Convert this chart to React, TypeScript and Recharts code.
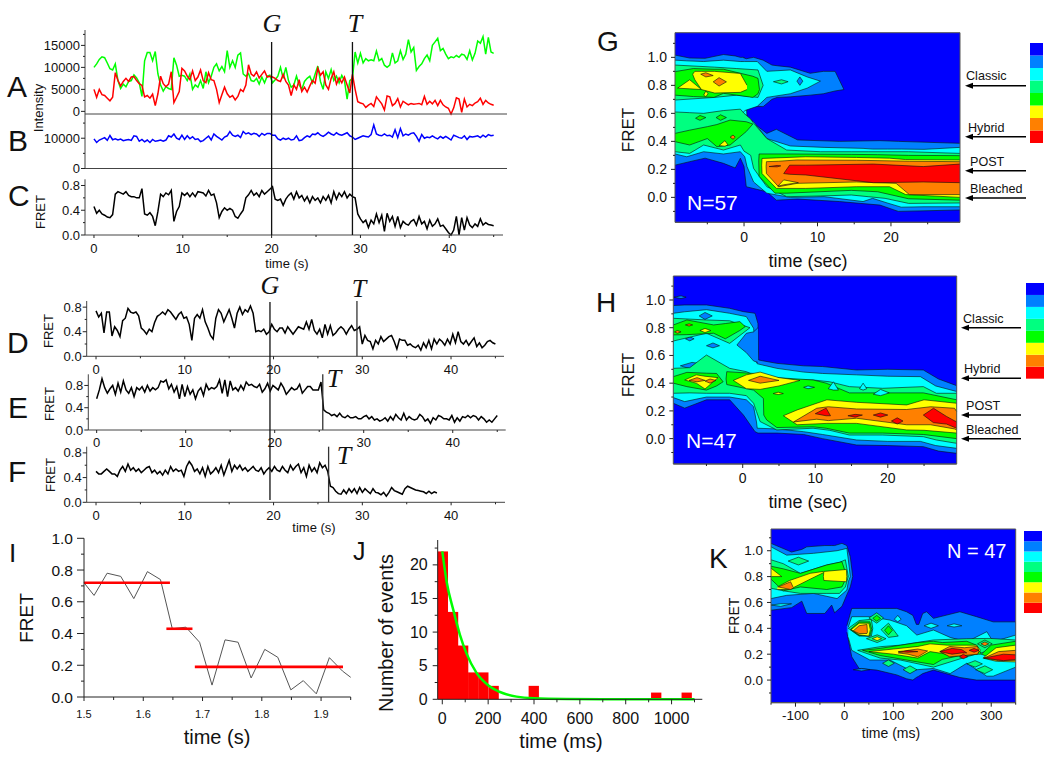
import React from "react";
import {
  Area,
  Bar,
  BarChart,
  ComposedChart,
  Line,
  ReferenceLine,
  XAxis,
  YAxis,
} from "recharts";

const PAGE_W = 1050;
const PAGE_H = 759;
const SANS = "'Liberation Sans', Arial, sans-serif";
const SERIF = "'Liberation Serif', 'Times New Roman', serif";

// contour levels, low to high
const LEVEL_COLORS = ["#0000ff", "#0080ff", "#00ffff", "#00ff80", "#00ff00", "#ffff00", "#ff8000", "#ff0000"];

// panel A, intensity in thousands, one value each 0.3 s
const greenTrace = [
  10.0, 10.8, 11.8, 12.4, 12.2, 11.0, 9.7, 9.4, 10.8, 7.0,
  5.2, 6.2, 5.6, 6.8, 7.0, 8.3, 7.6, 6.5, 3.4, 11.5,
  13.4, 13.4, 11.5, 13.6, 8.5, 6.0, 4.6, 5.6, 5.2, 5.0,
  12.2, 10.5, 8.0, 8.2, 8.0, 7.0, 8.5, 5.0, 6.0, 5.5,
  7.0, 5.2, 9.0, 6.5, 8.0, 10.0, 10.8, 9.2, 10.2, 9.0,
  13.8, 10.0, 11.5, 10.0, 12.8, 13.3, 8.5, 8.0, 8.6, 7.0,
  6.8, 7.5, 6.2, 7.8, 6.5, 8.0, 8.2, 6.5, 7.2, 8.0,
  10.0, 7.5, 10.0, 7.0, 5.5, 6.0, 8.0, 6.0, 5.0, 6.8,
  7.5, 8.0, 6.5, 8.5, 10.3, 6.8, 5.0, 9.0, 7.5, 9.5,
  7.0, 8.0, 6.5, 8.2, 7.0, 2.8, 7.0, 7.5, 13.5, 11.0,
  13.2, 11.0, 12.0, 11.5, 11.7, 11.5, 13.7, 11.5, 12.0, 10.5,
  10.0, 10.5, 13.3, 11.0, 11.5, 13.8, 11.8, 13.0, 16.3, 13.5,
  14.5, 9.3, 10.2, 10.8, 12.0, 12.8, 11.5, 15.0, 15.8, 16.6,
  13.8, 14.3, 13.0, 12.0, 12.4, 12.2, 12.7, 12.3, 13.0, 12.8,
  11.8, 13.8, 11.7, 13.2, 16.0, 15.5, 17.0, 13.0, 16.8, 13.5,
  13.2,
];
const redTrace = [
  5.0, 3.2, 5.0, 3.8, 3.6, 3.0, 2.4, 3.2, 8.8, 7.0,
  5.8, 6.8, 7.5, 6.8, 7.8, 7.9, 7.0, 6.3, 5.9, 3.3,
  3.6, 3.0, 3.9, 1.3, 4.0, 8.0, 6.3, 5.6, 6.2, 9.0,
  2.0, 3.2, 4.5, 9.8, 9.2, 8.0, 7.2, 9.2, 7.0, 7.8,
  9.4, 7.0, 6.5, 8.8, 7.2, 7.0, 5.0, 2.0, 3.8, 5.5,
  4.0, 3.2, 3.6, 2.6, 3.4, 5.0, 4.5, 6.0, 10.6, 8.5,
  8.0, 9.0, 7.6, 8.4, 9.2, 7.8, 8.0, 7.8, 7.5, 7.0,
  6.8, 8.4, 6.8, 6.0, 3.6, 6.0, 5.0, 7.2, 4.5, 5.5,
  4.4, 5.8, 7.0, 6.4, 9.8, 8.2, 9.0, 6.0, 5.0, 7.5,
  9.0, 6.2, 7.6, 6.5, 7.8, 6.0, 4.2, 8.4, 5.0, 2.2,
  1.9, 1.7, 0.9, 1.4, 1.8, 1.1, 3.3, 2.5, 1.7, 0.3,
  3.5, 3.3, 1.3, 1.8, 2.9, 1.0, 2.3, 1.9, 1.5, 1.8,
  1.6, 1.7, 1.8, 1.5, 3.4, 1.6, 2.3, 1.7, 2.5, 1.3,
  2.5, 1.5, 1.0, 0.7, -0.6, 0.8, 3.1, 2.8, -0.2, 2.8,
  1.0, 1.6, 1.3, 1.9, 2.2, 3.0, 1.6, 2.5, 1.9, 1.6,
  1.4,
];
// panel B, thousands
const blueTrace = [
  9.8, 8.6, 9.4, 9.8, 10.2, 9.3, 10.9, 9.5, 9.8, 9.4,
  9.7, 9.2, 9.4, 9.6, 9.3, 10.8, 10.6, 9.0, 9.6, 8.8,
  9.4, 8.6, 9.6, 9.0, 9.2, 9.4, 9.0, 9.4, 10.8, 10.4,
  11.4, 10.0, 9.6, 11.0, 9.6, 10.8, 9.8, 10.5, 9.6, 9.8,
  8.9, 9.2, 10.0, 10.7, 9.4, 11.4, 10.6, 10.0, 9.4, 10.4,
  10.8, 12.2, 11.0, 10.6, 11.0, 10.2, 12.2, 11.4, 11.8, 11.2,
  11.6, 11.4, 10.6, 11.6, 11.0, 11.6, 11.6, 11.0, 11.0, 9.8,
  9.4, 10.0, 9.6, 10.0, 9.4, 9.6, 10.8, 9.2, 9.4, 10.2,
  10.8, 10.4, 11.4, 11.2, 11.8, 11.0, 10.6, 11.2, 12.0, 11.4,
  11.0, 11.8, 11.2, 11.0, 11.4, 11.8, 10.8, 10.4, 9.6, 10.0,
  10.4, 10.8, 10.6, 10.4, 11.2, 14.4, 11.4, 11.0, 10.8, 11.4,
  10.8, 11.0, 10.4, 12.8, 10.2, 13.2, 10.8, 11.4, 11.0, 11.6,
  11.8, 10.6, 9.0, 11.2, 10.0, 10.4, 10.2, 10.8, 10.2, 9.8,
  10.6, 10.0, 10.6, 10.0, 9.4, 11.0, 10.6, 10.2, 10.0, 10.8,
  9.6, 10.6, 10.4, 10.6, 10.8, 10.2, 11.0, 10.4, 11.2, 10.8,
  11.0,
];
// FRET panels, in hundredths
const fretC = [
  46, 35, 40, 34, 32, 29, 28, 33, 66, 70,
  68, 66, 70, 64, 62, 62, 60, 60, 75, 34,
  32, 36, 30, 15, 38, 66, 62, 68, 65, 72,
  22, 38, 46, 68, 64, 68, 62, 68, 62, 70,
  69, 68, 63, 72, 64, 66, 52, 28, 38, 44,
  40, 43, 40, 30, 27, 34, 40, 60, 65, 72,
  64, 68, 62, 72, 66, 70, 74, 78, 58, 56,
  58, 48, 58, 64, 68, 58, 70, 60, 64, 55,
  62, 52, 62, 56, 60, 52, 62, 56, 64, 52,
  70, 58, 68, 62, 70, 60, 66, 62, 60, 34,
  26, 20, 24, 12, 24, 18, 34, 20, 32, 6,
  35, 22, 30, 14, 30, 12, 22, 18, 16, 22,
  25, 16, 30, 18, 22, 10, 24, 14, 18, 26,
  14, 16, 10, 4, 0, 8, 30, 0, 28, 8,
  28, 16, 12, 18, 14, 26, 16, 20, 17, 16,
  15,
];
const fretD = [
  74, 64, 70, 38, 72, 72, 33, 48, 42, 32,
  58, 62, 78, 72, 70, 72, 66, 46, 42, 36,
  44, 40, 55, 65, 68, 72, 68, 76, 72, 66,
  60, 68, 72, 62, 64, 52, 26, 62, 68, 62,
  76, 56, 46, 34, 28, 62, 76, 70, 56, 66,
  76, 62, 46, 70, 80, 68, 76, 72, 82, 70,
  40, 42, 40, 44, 36, 40, 52, 44, 40, 46,
  46, 38, 48, 42, 36, 42, 48, 46, 44, 56,
  44, 60, 42, 36, 44, 30, 52, 36, 50, 34,
  38, 44, 48, 44, 36, 44, 50, 42, 44, 48,
  20, 34, 26, 24, 12, 26, 20, 32, 24, 28,
  32, 34, 24, 12, 28, 26, 26, 18, 20, 16,
  14, 18, 10, 22, 14, 26, 12, 28, 20, 28,
  24, 18, 28, 20, 36, 22, 40, 24, 20, 26,
  18, 24, 30, 16, 22, 14, 18, 24, 26, 22,
  20,
];
const fretE = [
  56, 72, 92, 76, 66, 74, 80, 64, 84, 68,
  88, 72, 66, 76, 60, 76, 72, 78, 68, 80,
  70, 76, 72, 76, 88, 86, 90, 74, 82, 68,
  78, 56, 82, 60, 78, 64, 72, 56, 70, 76,
  62, 82, 72, 76, 74, 78, 90, 66, 90, 60,
  88, 72, 76, 70, 80, 72, 86, 80, 82, 78,
  76, 82, 68, 74, 84, 70, 80, 76, 72, 84,
  76, 64, 70, 76, 72, 74, 82, 66, 72, 78,
  78, 72, 72, 72, 86, 36, 32, 30, 26, 28,
  24, 30, 24, 22, 26, 22, 22, 24, 20, 20,
  24, 26, 20, 24, 18, 20, 16, 18, 22, 16,
  24, 18, 28, 22, 18, 30, 18, 24, 20, 18,
  20, 28, 24, 16, 20, 12, 22, 18, 26, 24,
  20, 20, 18, 26, 14, 22, 16, 24, 22, 26,
  22, 26, 24, 18, 24, 20, 14, 18, 14, 20,
  26,
];
const fretF = [
  50, 46, 46, 50, 54, 50, 46, 46, 42, 52,
  58, 50, 62, 52, 56, 50, 54, 48, 52, 56,
  58, 48, 52, 46, 50, 44, 52, 46, 58, 50,
  54, 50, 52, 42, 58, 66, 60, 50, 54, 46,
  56, 42, 58, 46, 50, 56, 48, 60, 44, 56,
  68, 50, 60, 54, 60, 52, 56, 50, 54, 58,
  52, 50, 56, 46, 52, 56, 50, 58, 52, 50,
  58, 52, 48, 60, 52, 58, 62, 48, 56, 42,
  60, 50, 56, 48, 64, 56, 60, 50, 26, 24,
  18, 14, 13, 20, 14, 22, 16, 22, 14, 24,
  16, 22, 18, 14, 22, 16, 15, 12, 16, 10,
  16, 24, 19, 17, 15, 13, 22, 26, 24, 22,
  20, 19, 18, 17, 14, 18, 14, 17, 15,
];

// panel I
const traceITimes = [1.5, 1.517, 1.539, 1.562, 1.584, 1.607, 1.629, 1.649, 1.672, 1.695, 1.716, 1.738, 1.76, 1.782, 1.805, 1.827, 1.849, 1.87, 1.892, 1.914, 1.936, 1.95];
const traceIFret = [0.72, 0.64, 0.78, 0.76, 0.62, 0.79, 0.74, 0.43, 0.44, 0.345, 0.075, 0.36, 0.345, 0.12, 0.3, 0.25, 0.045, 0.103, 0.02, 0.248, 0.164, 0.124];
const stepLevels: [number, number, number][] = [
  [1.5, 1.645, 0.72],
  [1.639, 1.683, 0.43],
  [1.687, 1.937, 0.19],
];

// panel J
const histCenters = [2.5, 47, 91, 135, 179, 224, 399, 933, 1066];
const histCounts = [22, 13, 8, 4, 4, 2, 2, 1, 1];
const fitTimes = [0, 19, 48, 77, 106, 150, 200, 266, 324, 397, 542, 800, 1100];
const fitCounts = [22, 17.5, 13.3, 9.6, 6.8, 3.9, 2.1, 0.9, 0.4, 0.15, 0.05, 0.02, 0.02];

// contour regions: [level, [time, lower FRET, upper FRET] ...], painted in list order
type Band = [number, number, number];
type Region = [number, Band[]];

const contourG: Region[] = [
  [1, [[-9.4, 0.23, 1.016], [-7.4, 0.255, 0.995], [-5.3, 0.28, 0.993], [-2.8, 0.243, 1.02], [-1.2, 0.21, 1.01], [-0.5, 0.28, 1.0], [0, 0.22, 1.0], [0.3, 0.076, 0.57], [3.1, 0.04, 0.457], [4.4, -0.02, 0.486], [7.3, -0.012, 0.41], [13, -0.03, 0.4], [18.5, -0.055, 0.405], [21, -0.1, 0.4], [29.4, -0.09, 0.386]]],
  [1, [[-0.2, 0.56, 1.0], [0.3, 0.636, 0.99], [1.3, 0.652, 1.0], [2.6, 0.648, 0.98], [3.8, 0.7, 0.945], [4.5, 0.714, 0.94], [6.3, 0.718, 0.93], [9, 0.73, 0.886], [10.8, 0.74, 0.9], [12.4, 0.76, 0.9], [13.6, 0.77, 0.77]]],
  [2, [[-9.4, 0.31, 0.98], [-7.8, 0.29, 0.975], [-5.5, 0.326, 0.97], [-2.8, 0.31, 0.98], [-0.5, 0.326, 0.97], [0.1, 0.29, 0.96], [0.4, 0.22, 0.565], [1.3, 0.11, 0.54], [3.1, 0.03, 0.42], [6.3, 0, 0.367], [10.9, 0.005, 0.357], [16.2, -0.03, 0.35], [17.5, -0.007, 0.345], [19.5, -0.04, 0.345], [21.4, -0.07, 0.345], [24.5, -0.067, 0.343], [29.4, -0.067, 0.357]]],
  [2, [[-0.5, 0.58, 0.97], [0.1, 0.62, 0.97], [1.8, 0.65, 0.97], [3.1, 0.714, 0.9], [6.3, 0.74, 0.91], [8.6, 0.78, 0.86], [10.4, 0.83, 0.83]]],
  [3, [[4, 0.826, 0.826], [5.1, 0.81, 0.84], [6, 0.826, 0.826]]],
  [1, [[7.2, 0.83, 0.83], [7.6, 0.8, 0.86], [8, 0.83, 0.83]]],
  [3, [[-9.4, 0.695, 0.945], [-4, 0.714, 0.93], [-1, 0.73, 0.92], [1.9, 0.714, 0.91], [2.6, 0.8, 0.8]]],
  [3, [[-9.4, 0.326, 0.61], [-7.4, 0.314, 0.605], [-5.5, 0.374, 0.6], [-2.8, 0.338, 0.62], [-0.5, 0.374, 0.63], [0, 0.33, 0.6], [0.9, 0.3, 0.56], [1.3, 0.207, 0.53], [3.1, 0.076, 0.42], [5.8, 0.005, 0.338], [10.4, 0.01, 0.326], [14.6, 0.017, 0.326], [16.9, 0.005, 0.326], [19.2, -0.007, 0.326], [22.4, -0.043, 0.326], [29.4, -0.04, 0.314]]],
  [4, [[-9.4, 0.73, 0.898], [-6.9, 0.72, 0.92], [-4.1, 0.714, 0.915], [-2.8, 0.743, 0.915], [1.2, 0.714, 0.865], [1.9, 0.74, 0.85], [2.1, 0.77, 0.77]]],
  [4, [[-9.4, 0.398, 0.457], [-7.4, 0.374, 0.48], [-5, 0.42, 0.505], [-3.7, 0.362, 0.52], [-1.9, 0.374, 0.552], [0.3, 0.47, 0.54], [1.2, 0.524, 0.524]]],
  [4, [[2, 0.26, 0.26], [2.05, 0.15, 0.31], [4.2, 0.03, 0.31], [5.8, 0.03, 0.31], [14.6, 0.05, 0.307], [18.2, 0.04, 0.305], [22.4, -0.01, 0.3], [29.4, -0.02, 0.298]]],
  [4, [[-6.6, 0.565, 0.565], [-6, 0.55, 0.585], [-5.2, 0.57, 0.57]]],
  [4, [[-3.8, 0.57, 0.57], [-3.2, 0.55, 0.59], [-2.4, 0.57, 0.57]]],
  [5, [[-9.05, 0.78, 0.78], [-7.4, 0.775, 0.84], [-5.8, 0.77, 0.77]]],
  [5, [[-7, 0.88, 0.88], [-6.7, 0.84, 0.9], [-5.8, 0.77, 0.9], [-4, 0.745, 0.9], [-0.5, 0.75, 0.885], [0.4, 0.77, 0.8]]],
  [5, [[-5.5, 0.73, 0.73], [-5.2, 0.72, 0.76], [-4.9, 0.74, 0.74]]],
  [5, [[-3.4, 0.37, 0.37], [-2.6, 0.365, 0.405], [-2.2, 0.375, 0.375]]],
  [6, [[-1.9, 0.43, 0.43], [-1.5, 0.415, 0.445], [-1.2, 0.43, 0.43]]],
  [5, [[2.4, 0.23, 0.23], [2.45, 0.17, 0.278], [4.4, 0.064, 0.282], [8.4, 0.064, 0.29], [15.3, 0.076, 0.285], [19.8, 0.076, 0.28], [22, 0.02, 0.27], [29.4, 0, 0.267]]],
  [6, [[3, 0.22, 0.22], [3.05, 0.17, 0.255], [4.7, 0.076, 0.258], [7.2, 0.1, 0.267], [15.3, 0.11, 0.265], [20.7, 0.1, 0.26], [22.5, 0.02, 0.258], [29.4, 0.02, 0.255]]],
  [5, [[4.6, 0.08, 0.08], [5.4, 0.09, 0.125], [7.4, 0.105, 0.105]]],
  [6, [[-5.9, 0.88, 0.88], [-5.2, 0.86, 0.89], [-4.2, 0.87, 0.87]]],
  [6, [[-4.2, 0.825, 0.825], [-3.4, 0.795, 0.855], [-2.4, 0.825, 0.825]]],
  [7, [[5.4, 0.17, 0.17], [6.2, 0.165, 0.23], [8.4, 0.16, 0.23], [17.6, 0.105, 0.238], [24.4, 0.11, 0.22], [29.4, 0.105, 0.238]]],
  [7, [[3.4, 0.22, 0.22], [4.5, 0.218, 0.228], [5, 0.225, 0.225]]],
];

const contourH: Region[] = [
  [1, [[-9.57, 0.255, 0.96], [-8, 0.22, 0.964], [-5, 0.28, 0.964], [-1.8, 0.28, 0.94], [0.1, 0.17, 0.916], [1.7, 0.05, 0.904], [2.1, 0.04, 0.83], [2.2, 0.04, 0.567], [4.7, 0.04, 0.543], [8.4, 0.03, 0.525], [11, 0, 0.52], [15.7, -0.046, 0.495], [20, -0.05, 0.5], [24.9, -0.058, 0.495], [27, -0.09, 0.43], [29.5, -0.106, 0.382]]],
  [1, [[-9.5, 1.02, 1.02], [-8.5, 1.01, 1.03], [-7.8, 1.02, 1.02]]],
  [2, [[-9.57, 0.296, 0.904], [-8, 0.267, 0.915], [-5, 0.3, 0.93], [-1.8, 0.3, 0.904], [0.5, 0.28, 0.88], [1.5, 0.23, 0.796], [1.9, 0.12, 0.55], [2, 0.075, 0.54], [4.7, 0.07, 0.507], [8.4, 0.05, 0.48], [11, 0.03, 0.47], [15.7, -0.01, 0.46], [20, -0.02, 0.45], [24.5, -0.02, 0.447], [26.6, -0.05, 0.38], [29.5, -0.07, 0.34]]],
  [1, [[-0.8, 0.675, 0.675], [0.5, 0.62, 0.76], [1.5, 0.56, 0.77], [2.1, 0.55, 0.8]]],
  [1, [[-6, 0.885, 0.885], [-5.2, 0.86, 0.91], [-4.2, 0.885, 0.885]]],
  [1, [[-7.9, 0.72, 0.72], [-7.3, 0.705, 0.735], [-6.7, 0.72, 0.72]]],
  [1, [[-5, 0.67, 0.67], [-4.1, 0.655, 0.69], [-3.2, 0.67, 0.67]]],
  [1, [[-8.6, 0.525, 0.525], [-7, 0.5, 0.55], [-5, 0.5, 0.535], [-4.6, 0.52, 0.52]]],
  [3, [[-9.57, 0.704, 0.868], [-5, 0.76, 0.856], [-1.8, 0.687, 0.85], [1, 0.8, 0.8]]],
  [3, [[-9.57, 0.327, 0.507], [-7.3, 0.33, 0.512], [-5, 0.327, 0.603], [-1.8, 0.327, 0.507], [0.5, 0.31, 0.483], [1.5, 0.255, 0.46], [1.9, 0.195, 0.45], [2.4, 0.123, 0.44], [4.7, 0.0625, 0.423], [9.7, 0.075, 0.423], [12, 0.06, 0.41], [14.7, 0.026, 0.375], [19.3, 0.026, 0.363], [24.9, 0.014, 0.375], [26.7, -0.01, 0.327], [29.5, -0.034, 0.327]]],
  [4, [[-9.57, 0.748, 0.82], [-7.7, 0.75, 0.856], [-4, 0.76, 0.82], [-2.4, 0.72, 0.83], [-0.4, 0.78, 0.844], [0.35, 0.808, 0.808]]],
  [4, [[-9.57, 0.4, 0.447], [-7.7, 0.375, 0.478], [-5, 0.35, 0.472], [-3.6, 0.38, 0.47], [-2.7, 0.41, 0.41]]],
  [4, [[-2.3, 0.43, 0.43], [-2.2, 0.39, 0.483], [1.5, 0.35, 0.47], [2.85, 0.29, 0.455], [2.9, 0.17, 0.455], [3.3, 0.135, 0.45], [4.7, 0.08, 0.44], [9.7, 0.085, 0.423], [11.5, 0.075, 0.4], [14.7, 0.04, 0.33], [19.3, 0.04, 0.33], [24.9, 0.03, 0.33], [29.5, 0, 0.28]]],
  [2, [[8.4, 0.37, 0.37], [9, 0.36, 0.38], [9.9, 0.37, 0.37]]],
  [2, [[11.8, 0.36, 0.36], [12.5, 0.35, 0.41], [13.2, 0.35, 0.35]]],
  [2, [[16.1, 0.36, 0.36], [16.6, 0.35, 0.4], [17.1, 0.36, 0.36]]],
  [2, [[18, 0.32, 0.32], [19, 0.31, 0.355], [20.2, 0.33, 0.33]]],
  [5, [[-8, 0.423, 0.423], [-6.4, 0.4, 0.46], [-5.2, 0.358, 0.45], [-3.4, 0.44, 0.44]]],
  [5, [[-1.3, 0.42, 0.42], [0.5, 0.36, 0.46], [2.4, 0.355, 0.48], [5, 0.38, 0.44], [7.9, 0.42, 0.42]]],
  [5, [[-5.9, 0.78, 0.78], [-5.2, 0.765, 0.795], [-4.4, 0.78, 0.78]]],
  [5, [[4.2, 0.325, 0.325], [4.9, 0.318, 0.335], [5.6, 0.325, 0.325]]],
  [5, [[5.6, 0.165, 0.165], [7.5, 0.1, 0.207], [11.6, 0.11, 0.28], [15.7, 0.11, 0.262], [22.6, 0.0625, 0.243], [25, 0.06, 0.28], [29.5, 0.04, 0.255]]],
  [6, [[7, 0.12, 0.12], [10.2, 0.14, 0.219], [11.8, 0.13, 0.23], [15.7, 0.147, 0.214], [22.6, 0.1, 0.21], [25.9, 0.1, 0.23], [29.2, 0.07, 0.219], [29.5, 0.0625, 0.195]]],
  [6, [[-7.4, 0.42, 0.42], [-6.3, 0.41, 0.44], [-5.2, 0.42, 0.42]]],
  [6, [[-5.2, 0.415, 0.415], [-4.5, 0.4, 0.43], [-3.7, 0.42, 0.42]]],
  [6, [[0.8, 0.42, 0.42], [2.4, 0.4, 0.45], [5, 0.42, 0.42]]],
  [6, [[-7.9, 0.82, 0.82], [-7.4, 0.812, 0.828], [-6.9, 0.82, 0.82]]],
  [6, [[-9.4, 0.77, 0.77], [-9, 0.76, 0.78], [-8.5, 0.77, 0.77]]],
  [7, [[10, 0.18, 0.18], [11.5, 0.165, 0.22], [12.1, 0.165, 0.165]]],
  [7, [[14.5, 0.165, 0.165], [15.5, 0.155, 0.175], [16.5, 0.17, 0.17]]],
  [7, [[18, 0.17, 0.17], [19, 0.155, 0.185], [20, 0.17, 0.17]]],
  [7, [[20.5, 0.127, 0.127], [21.3, 0.105, 0.15], [22.1, 0.127, 0.127]]],
  [7, [[24.9, 0.17, 0.17], [26.3, 0.115, 0.219], [28.1, 0.105, 0.16], [29.5, 0.075, 0.12]]],
];

const contourK: Region[] = [
  [1, [[-150, 0.54, 1.057], [-108, 0.56, 0.99], [-87, 0.61, 1.01], [-77, 0.515, 1.03], [-40, 0.515, 1.04], [-26, 0.58, 1.04], [-20, 0.52, 1.04], [-5, 0.57, 1.057], [5, 0.66, 1.04], [12, 0.72, 0.954], [17, 0.8, 0.8]]],
  [2, [[-150, 0.63, 1.03], [-118, 0.655, 0.966], [-63, 0.67, 0.98], [-15, 0.63, 1.0], [5, 0.696, 1.018], [8, 0.76, 0.93], [12, 0.8, 0.8]]],
  [2, [[-150, 0.58, 0.58], [-130, 0.57, 0.59], [-108, 0.59, 0.59]]],
  [3, [[-150, 0.71, 0.93], [-125, 0.69, 0.9], [-90, 0.67, 0.825], [-36, 0.67, 0.89], [-10, 0.67, 0.91], [2, 0.72, 0.93], [8, 0.8, 0.8]]],
  [3, [[-115, 0.92, 0.92], [-94, 0.89, 0.95], [-73, 0.92, 0.92]]],
  [4, [[-150, 0.78, 0.88], [-125, 0.69, 0.86], [-90, 0.72, 0.825], [-36, 0.7, 0.89], [-5, 0.72, 0.915], [5, 0.8, 0.8]]],
  [5, [[-150, 0.8, 0.865], [-128, 0.8, 0.8]]],
  [5, [[-137, 0.7, 0.72], [-112, 0.7, 0.77], [-70, 0.78, 0.825], [-43, 0.83, 0.84]]],
  [5, [[-43, 0.8, 0.8], [-42, 0.77, 0.84], [4, 0.76, 0.855], [5, 0.8, 0.8]]],
  [6, [[-135, 0.72, 0.72], [-110, 0.7, 0.76], [-105, 0.71, 0.72]]],
  [1, [[5, 0.37, 0.42], [15, 0.18, 0.554], [30, 0.09, 0.554], [66, 0.077, 0.554], [107, 0.04, 0.554], [127, 0.01, 0.528], [140, 0, 0.5], [147, 0.02, 0.43], [152, 0.03, 0.43], [160, 0.05, 0.515], [168, 0.06, 0.528], [182, 0.077, 0.477], [236, 0.02, 0.528], [270, 0, 0.49], [304, 0, 0.45], [350, 0, 0.45]]],
  [1, [[18, 0.08, 0.08], [35, 0.07, 0.09], [52, 0.08, 0.08]]],
  [2, [[8, 0.33, 0.41], [15, 0.23, 0.49], [52, 0.155, 0.49], [93, 0.155, 0.464], [127, 0.09, 0.42], [148, 0.08, 0.348], [182, 0.09, 0.387], [216, 0.05, 0.33], [250, 0.13, 0.296], [291, 0.03, 0.374], [304, 0.03, 0.296], [350, 0.1, 0.348]]],
  [2, [[163, 0.42, 0.42], [177, 0.4, 0.44], [192, 0.42, 0.42]]],
  [2, [[210, 0.42, 0.42], [224, 0.41, 0.435], [240, 0.42, 0.42]]],
  [2, [[102, 0.47, 0.47], [109, 0.45, 0.5], [116, 0.47, 0.47]]],
  [3, [[27, 0.23, 0.23], [73, 0.17, 0.258], [114, 0.155, 0.27], [182, 0.1, 0.31], [250, 0.18, 0.32], [298, 0.23, 0.322], [350, 0.155, 0.31]]],
  [3, [[8, 0.4, 0.4], [30, 0.34, 0.46], [55, 0.34, 0.47], [58, 0.4, 0.4]]],
  [3, [[50, 0.48, 0.48], [66, 0.44, 0.52], [80, 0.48, 0.48]]],
  [3, [[75, 0.39, 0.39], [90, 0.33, 0.44], [110, 0.34, 0.34]]],
  [3, [[45, 0.32, 0.32], [67, 0.29, 0.35], [85, 0.32, 0.32]]],
  [3, [[120, 0.08, 0.08], [134, 0.05, 0.11], [148, 0.08, 0.08]]],
  [3, [[78, 0.13, 0.13], [90, 0.105, 0.155], [102, 0.13, 0.13]]],
  [3, [[268, 0.08, 0.08], [287, 0.05, 0.11], [303, 0.08, 0.08]]],
  [3, [[250, 0.125, 0.125], [267, 0.1, 0.15], [282, 0.125, 0.125]]],
  [3, [[272, 0.28, 0.28], [287, 0.25, 0.31], [302, 0.28, 0.28]]],
  [4, [[37, 0.23, 0.23], [73, 0.19, 0.245], [150, 0.14, 0.29], [182, 0.12, 0.3], [200, 0.16, 0.29], [250, 0.2, 0.3], [270, 0.2, 0.27], [280, 0.2, 0.2]]],
  [4, [[280, 0.2, 0.2], [300, 0.17, 0.27], [350, 0.15, 0.3]]],
  [4, [[58, 0.477, 0.477], [66, 0.455, 0.5], [74, 0.477, 0.477]]],
  [4, [[82, 0.385, 0.385], [90, 0.35, 0.42], [98, 0.385, 0.385]]],
  [4, [[12, 0.39, 0.39], [30, 0.345, 0.45], [52, 0.34, 0.45], [56, 0.39, 0.39]]],
  [5, [[14, 0.39, 0.39], [30, 0.35, 0.44], [50, 0.34, 0.44], [53, 0.39, 0.39]]],
  [5, [[57, 0.32, 0.32], [67, 0.305, 0.335], [76, 0.32, 0.32]]],
  [5, [[50, 0.22, 0.22], [100, 0.2, 0.24], [150, 0.17, 0.26], [175, 0.22, 0.28], [210, 0.2, 0.27], [250, 0.19, 0.27], [270, 0.2, 0.27], [278, 0.23, 0.23]]],
  [5, [[283, 0.17, 0.17], [310, 0.145, 0.25], [350, 0.14, 0.27]]],
  [6, [[18, 0.38, 0.38], [30, 0.36, 0.42], [46, 0.36, 0.43], [47, 0.37, 0.37]]],
  [6, [[110, 0.21, 0.21], [130, 0.2, 0.23], [150, 0.18, 0.24], [170, 0.225, 0.225]]],
  [6, [[195, 0.22, 0.22], [215, 0.18, 0.26], [245, 0.19, 0.25], [272, 0.2, 0.26], [275, 0.22, 0.22]]],
  [6, [[285, 0.17, 0.17], [315, 0.15, 0.22], [350, 0.15, 0.23]]],
  [6, [[279, 0.28, 0.28], [287, 0.265, 0.295], [295, 0.28, 0.28]]],
  [7, [[195, 0.22, 0.22], [220, 0.2, 0.245], [240, 0.21, 0.235], [250, 0.21, 0.21]]],
  [7, [[235, 0.18, 0.18], [243, 0.165, 0.2], [252, 0.18, 0.18]]],
  [7, [[255, 0.23, 0.23], [265, 0.215, 0.245], [275, 0.23, 0.23]]],
  [7, [[110, 0.22, 0.22], [130, 0.215, 0.228], [150, 0.22, 0.22]]],
  [7, [[285, 0.17, 0.17], [325, 0.15, 0.2], [350, 0.16, 0.195]]],
];

const traceTicksX = [0, 5, 10, 15, 20, 25, 30, 35, 40, 45];
const traceMajorX = [0, 10, 20, 30, 40];
const fretTicks = [0, 0.2, 0.4, 0.6, 0.8];
const fretMajor = [0, 0.4, 0.8];
const contourFretTicks = [-0.1, 0, 0.1, 0.2, 0.3, 0.4, 0.5, 0.6, 0.7, 0.8, 0.9, 1.0, 1.1];
const contourFretMajor = [0, 0.2, 0.4, 0.6, 0.8, 1.0];

type Box = { x: number; y: number; w: number; h: number };

// every chart is page sized, so a panel is placed by its plot box in page pixels
function marginFor(b: Box) {
  return { left: b.x - 40, top: b.y, right: PAGE_W - b.x - b.w, bottom: PAGE_H - b.y - b.h - 30 };
}

const layer: React.CSSProperties = { position: "absolute", left: 0, top: 0 };

type TickStyle = { majors: number[]; len: number; minorLen: number; gap: number; size: number; fmt: (v: number) => string };

function makeXTick(s: TickStyle) {
  return (p: any) => {
    const v = p.payload.value;
    const major = s.majors.some((m) => Math.abs(m - v) < 1e-6);
    return (
      <g>
        <line x1={p.x} x2={p.x} y1={p.y} y2={p.y + (major ? s.len : s.minorLen)} stroke="#222" />
        {major && (
          <text x={p.x} y={p.y + s.gap} textAnchor="middle" dominantBaseline="central" fontSize={s.size} fontFamily={SANS} fill="#111">
            {s.fmt(v)}
          </text>
        )}
      </g>
    );
  };
}

function makeYTick(s: TickStyle) {
  return (p: any) => {
    const v = p.payload.value;
    const major = s.majors.some((m) => Math.abs(m - v) < 1e-6);
    return (
      <g>
        <line x1={p.x} x2={p.x - (major ? s.len : s.minorLen)} y1={p.y} y2={p.y} stroke="#222" />
        {major && (
          <text x={p.x - s.gap} y={p.y} textAnchor="end" dominantBaseline="central" fontSize={s.size} fontFamily={SANS} fill="#111">
            {s.fmt(v)}
          </text>
        )}
      </g>
    );
  };
}

const fixed1 = (v: number) => v.toFixed(1);
const plain = (v: number) => String(v);

const traceRows = (values: number[], scale: number) => values.map((v, i) => ({ t: i * 0.3, v: v * scale }));

type TraceSeries = { values: number[]; scale: number; color: string };

function TracePanel(props: {
  box: Box;
  xDomain: [number, number];
  yDomain: [number, number];
  series: TraceSeries[];
  yTicks: number[];
  yMajor: number[];
  yFmt: (v: number) => string;
  xLabels: boolean;
  gap?: number;
  marks?: number[];
}) {
  const { box, xDomain, yDomain, series, yTicks, yMajor, yFmt, xLabels, gap = 13, marks = [] } = props;
  return (
    <div style={layer}>
      <ComposedChart width={PAGE_W} height={PAGE_H} margin={marginFor(box)}>
        <XAxis
          dataKey="t"
          type="number"
          domain={xDomain}
          allowDataOverflow
          ticks={xLabels ? traceTicksX : []}
          interval={0}
          height={30}
          tickLine={false}
          tickSize={0}
          tickMargin={0}
          axisLine={{ stroke: "#444", strokeWidth: 1 }}
          tick={xLabels ? makeXTick({ majors: traceMajorX, len: 3, minorLen: 2, gap, size: 13, fmt: plain }) : false}
        />
        <YAxis
          type="number"
          domain={yDomain}
          ticks={yTicks}
          interval={0}
          width={40}
          tickLine={false}
          tickSize={0}
          tickMargin={0}
          axisLine={{ stroke: "#444", strokeWidth: 1 }}
          tick={makeYTick({ majors: yMajor, len: 4, minorLen: 2, gap: 5, size: 13, fmt: yFmt })}
        />
        {series.map((s) => (
          <Line
            key={s.color}
            data={traceRows(s.values, s.scale)}
            dataKey="v"
            stroke={s.color}
            strokeWidth={1.5}
            dot={false}
            activeDot={false}
            isAnimationActive={false}
            type="linear"
          />
        ))}
        {marks.map((m) => (
          <ReferenceLine key={m} x={m} stroke="#333" strokeWidth={1.3} />
        ))}
      </ComposedChart>
    </div>
  );
}

// vertical marker lines that run through several stacked panels
function MarkerLines(props: { box: Box; xDomain: [number, number]; marks: number[] }) {
  return (
    <div style={layer}>
      <ComposedChart width={PAGE_W} height={PAGE_H} margin={marginFor(props.box)}>
        <XAxis dataKey="t" type="number" domain={props.xDomain} height={30} tick={false} axisLine={false} tickLine={false} />
        <YAxis type="number" domain={[0, 1]} width={40} tick={false} axisLine={false} tickLine={false} />
        {props.marks.map((m) => (
          <Line
            key={m}
            data={[{ t: m, v: 0 }, { t: m, v: 1 }]}
            dataKey="v"
            stroke="#111"
            strokeWidth={1.3}
            dot={false}
            activeDot={false}
            isAnimationActive={false}
          />
        ))}
      </ComposedChart>
    </div>
  );
}

function ContourPanel(props: {
  box: Box;
  xDomain: [number, number];
  yDomain: [number, number];
  regions: Region[];
  xTicks: number[];
  xMajor: number[];
  size: number;
  gap: number;
}) {
  const { box, xDomain, yDomain, regions, xTicks, xMajor, size, gap } = props;
  const background = xDomain.map((t) => ({ t, band: yDomain }));
  return (
    <div style={layer}>
      <ComposedChart width={PAGE_W} height={PAGE_H} margin={marginFor(box)}>
        <XAxis
          dataKey="t"
          type="number"
          domain={xDomain}
          ticks={xTicks}
          interval={0}
          height={30}
          tickLine={false}
          tickSize={0}
          tickMargin={0}
          axisLine={{ stroke: "#555" }}
          tick={makeXTick({ majors: xMajor, len: 4, minorLen: 2, gap, size, fmt: plain })}
        />
        <YAxis
          type="number"
          domain={yDomain}
          ticks={contourFretTicks}
          interval={0}
          width={40}
          tickLine={false}
          tickSize={0}
          tickMargin={0}
          axisLine={{ stroke: "#555" }}
          tick={makeYTick({ majors: contourFretMajor, len: 4, minorLen: 2, gap: 8, size, fmt: fixed1 })}
        />
        <Area data={background} dataKey="band" fill={LEVEL_COLORS[0]} fillOpacity={1} stroke="#555" strokeWidth={1} dot={false} activeDot={false} isAnimationActive={false} />
        {regions.map(([level, bands], i) => (
          <Area
            key={i}
            data={bands.map(([t, lo, hi]) => ({ t, band: [lo, hi] }))}
            dataKey="band"
            type="linear"
            fill={LEVEL_COLORS[level]}
            fillOpacity={1}
            stroke="#06130c"
            strokeWidth={0.6}
            dot={false}
            activeDot={false}
            isAnimationActive={false}
          />
        ))}
        <ReferenceLine x={xDomain[1]} stroke="#555" />
      </ComposedChart>
    </div>
  );
}

const keyRow = [Object.fromEntries(LEVEL_COLORS.map((_, i) => [`l${i}`, 1]))];

function ColorKey(props: { x: number; y: number; w: number; h: number }) {
  return (
    <div style={{ position: "absolute", left: props.x, top: props.y }}>
      <BarChart width={props.w} height={props.h} data={keyRow} margin={{ left: 0, right: 0, top: 0, bottom: 0 }} barCategoryGap={0}>
        <XAxis hide />
        <YAxis hide domain={[0, LEVEL_COLORS.length]} />
        {[...LEVEL_COLORS.keys()].reverse().map((i) => (
          <Bar key={i} dataKey={`l${i}`} stackId="key" fill={LEVEL_COLORS[i]} isAnimationActive={false} />
        ))}
      </BarChart>
    </div>
  );
}

function Txt(props: { x: number; y: number; size: number; children: string; anchor?: "start" | "middle" | "end"; serif?: boolean; italic?: boolean; fill?: string; rotate?: boolean }) {
  const { x, y, size, children, anchor = "start", serif, italic, fill = "#111", rotate } = props;
  return (
    <text
      x={x}
      y={y}
      fontSize={size}
      fontFamily={serif ? SERIF : SANS}
      fontStyle={italic ? "italic" : "normal"}
      textAnchor={rotate ? "middle" : anchor}
      dominantBaseline={rotate ? "central" : undefined}
      fill={fill}
      transform={rotate ? `rotate(-90 ${x} ${y})` : undefined}
    >
      {children}
    </text>
  );
}

function Arrow(props: { x1: number; x2: number; y: number }) {
  const { x1, x2, y } = props;
  return (
    <g>
      <line x1={x1} x2={x2 + 6} y1={y} y2={y} stroke="#000" strokeWidth={1.4} />
      <polygon points={`${x2},${y} ${x2 + 8},${y - 3} ${x2 + 8},${y + 3}`} fill="#000" />
    </g>
  );
}

function Annotations() {
  return (
    <svg width={PAGE_W} height={PAGE_H} style={layer}>
      <Txt x={7} y={97} size={30}>A</Txt>
      <Txt x={8} y={151} size={30}>B</Txt>
      <Txt x={8} y={206} size={30}>C</Txt>
      <Txt x={7} y={353} size={30}>D</Txt>
      <Txt x={8} y={418} size={30}>E</Txt>
      <Txt x={8} y={482} size={30}>F</Txt>
      <Txt x={597} y={51} size={28}>G</Txt>
      <Txt x={596} y={312} size={28}>H</Txt>
      <Txt x={9} y={562} size={26}>I</Txt>
      <Txt x={353} y={560} size={25}>J</Txt>
      <Txt x={709} y={568} size={28}>K</Txt>

      <Txt x={272} y={32} size={26} anchor="middle" serif italic>G</Txt>
      <Txt x={355} y={32} size={26} anchor="middle" serif italic>T</Txt>
      <Txt x={270} y={294} size={26} anchor="middle" serif italic>G</Txt>
      <Txt x={359} y={297} size={26} anchor="middle" serif italic>T</Txt>
      <Txt x={334} y={387} size={26} anchor="middle" serif italic>T</Txt>
      <Txt x={344} y={464} size={26} anchor="middle" serif italic>T</Txt>

      <Txt x={38} y={108} size={13} rotate>Intensity</Txt>
      <Txt x={40} y={212} size={13} rotate>FRET</Txt>
      <Txt x={48} y={331} size={13} rotate>FRET</Txt>
      <Txt x={49} y={404} size={13} rotate>FRET</Txt>
      <Txt x={50} y={475} size={13} rotate>FRET</Txt>
      <Txt x={287} y={268} size={13} anchor="middle">time (s)</Txt>
      <Txt x={314} y={532} size={13} anchor="middle">time (s)</Txt>

      <Txt x={26} y={618} size={19} rotate>FRET</Txt>
      <Txt x={217} y={744} size={20} anchor="middle">time (s)</Txt>
      <Txt x={386} y={633} size={20} rotate>Number of events</Txt>
      <Txt x={561} y={748} size={20} anchor="middle">time (ms)</Txt>

      <Txt x={628} y={130} size={17} rotate>FRET</Txt>
      <Txt x={808} y={267} size={18} anchor="middle">time (sec)</Txt>
      <Txt x={687} y={210} size={21} fill="#fff">N=57</Txt>
      <Txt x={966} y={80} size={12.6}>Classic</Txt>
      <Txt x={968} y={132} size={12.6}>Hybrid</Txt>
      <Txt x={970} y={166} size={12.6}>POST</Txt>
      <Txt x={970} y={193} size={12.6}>Bleached</Txt>
      <Arrow x1={1026} x2={965} y={85.7} />
      <Arrow x1={1026} x2={965} y={136.7} />
      <Arrow x1={1026} x2={965} y={170.7} />
      <Arrow x1={1026} x2={965} y={198} />

      <Txt x={628} y={375} size={17} rotate>FRET</Txt>
      <Txt x={808} y={508} size={18} anchor="middle">time (sec)</Txt>
      <Txt x={686} y={448} size={21} fill="#fff">N=47</Txt>
      <Txt x={963} y={323} size={12.6}>Classic</Txt>
      <Txt x={964} y={373} size={12.6}>Hybrid</Txt>
      <Txt x={966} y={410} size={12.6}>POST</Txt>
      <Txt x={966} y={434} size={12.6}>Bleached</Txt>
      <Arrow x1={1021} x2={961} y={327.7} />
      <Arrow x1={1021} x2={961} y={378.3} />
      <Arrow x1={1021} x2={961} y={415} />
      <Arrow x1={1021} x2={961} y={438.7} />

      <Txt x={734} y={616} size={14} rotate>FRET</Txt>
      <Txt x={891} y={738} size={14} anchor="middle">time (ms)</Txt>
      <Txt x={947} y={558} size={20} fill="#fff">N = 47</Txt>
    </svg>
  );
}

const traceIRows = traceITimes.map((t, i) => ({ t, v: traceIFret[i] }));

function PanelI() {
  const box = { x: 84, y: 538.3, w: 266.7, h: 158.7 };
  return (
    <div style={layer}>
      <ComposedChart width={PAGE_W} height={PAGE_H} margin={marginFor(box)}>
        <XAxis
          dataKey="t"
          type="number"
          domain={[1.5, 1.95]}
          ticks={[1.5, 1.55, 1.6, 1.65, 1.7, 1.75, 1.8, 1.85, 1.9, 1.95]}
          interval={0}
          height={30}
          tickLine={false}
          tickSize={0}
          tickMargin={0}
          axisLine={{ stroke: "#222" }}
          tick={makeXTick({ majors: [1.5, 1.6, 1.7, 1.8, 1.9], len: 4, minorLen: 3, gap: 17, size: 11, fmt: fixed1 })}
        />
        <YAxis
          type="number"
          domain={[0, 1]}
          ticks={[0, 0.1, 0.2, 0.3, 0.4, 0.5, 0.6, 0.7, 0.8, 0.9, 1]}
          interval={0}
          width={40}
          tickLine={false}
          tickSize={0}
          tickMargin={0}
          axisLine={{ stroke: "#222" }}
          tick={makeYTick({ majors: [0, 0.2, 0.4, 0.6, 0.8, 1], len: 7, minorLen: 3, gap: 11, size: 15.5, fmt: fixed1 })}
        />
        <Line data={traceIRows} dataKey="v" stroke="#555" strokeWidth={1} dot={false} activeDot={false} isAnimationActive={false} />
        {stepLevels.map(([from, to, level]) => (
          <Line
            key={from}
            data={[{ t: from, v: level }, { t: to, v: level }]}
            dataKey="v"
            stroke="#ff0000"
            strokeWidth={2.6}
            dot={false}
            activeDot={false}
            isAnimationActive={false}
          />
        ))}
      </ComposedChart>
    </div>
  );
}

const histRows = histCenters.map((t, i) => ({ t, count: histCounts[i] }));
const fitRows = fitTimes.map((t, i) => ({ t, fit: fitCounts[i] }));

// the number axis gives hairline bars, so the bin width is set here around the scaled centre
const BIN_PX = 10.3;
function HistBar(p: any) {
  return <rect x={p.x + p.width / 2 - BIN_PX / 2} y={p.y} width={BIN_PX} height={p.height} fill="#ff0000" />;
}

function PanelJ() {
  const box = { x: 437.7, y: 540, w: 264.6, h: 159.3 };
  return (
    <div style={layer}>
      <ComposedChart width={PAGE_W} height={PAGE_H} margin={marginFor(box)} data={histRows}>
        <XAxis
          dataKey="t"
          type="number"
          domain={[-20, 1134]}
          ticks={[0, 100, 200, 300, 400, 500, 600, 700, 800, 900, 1000, 1100]}
          interval={0}
          height={30}
          tickLine={false}
          tickSize={0}
          tickMargin={0}
          axisLine={{ stroke: "#222" }}
          tick={makeXTick({ majors: [0, 200, 400, 600, 800, 1000], len: 5, minorLen: 3, gap: 19, size: 16, fmt: plain })}
        />
        <YAxis
          type="number"
          domain={[0, 23.7]}
          ticks={[0, 2.5, 5, 7.5, 10, 12.5, 15, 17.5, 20, 22.5]}
          interval={0}
          width={40}
          tickLine={false}
          tickSize={0}
          tickMargin={0}
          axisLine={{ stroke: "#222" }}
          tick={makeYTick({ majors: [0, 5, 10, 15, 20], len: 5, minorLen: 3, gap: 10, size: 16, fmt: plain })}
        />
        <Bar dataKey="count" fill="#ff0000" shape={HistBar} isAnimationActive={false} />
        <Line data={fitRows} dataKey="fit" type="monotone" stroke="#00ff00" strokeWidth={2.5} dot={false} activeDot={false} isAnimationActive={false} />
      </ComposedChart>
    </div>
  );
}

export default function App() {
  const traceX: [number, number] = [-1.01, 46.5];
  return (
    <div style={{ position: "absolute", left: 0, top: 0, width: PAGE_W, height: PAGE_H, background: "#fff", overflow: "hidden" }}>
      <TracePanel
        box={{ x: 85, y: 30, w: 422, h: 84 }}
        xDomain={traceX}
        yDomain={[0, 18500]}
        series={[
          { values: greenTrace, scale: 1000, color: "#00ff00" },
          { values: redTrace, scale: 1000, color: "#ff0000" },
        ]}
        yTicks={[0, 2500, 5000, 7500, 10000, 12500, 15000, 17500]}
        yMajor={[0, 5000, 10000, 15000]}
        yFmt={plain}
        xLabels={false}
      />
      <TracePanel
        box={{ x: 85, y: 114, w: 422, h: 54.5 }}
        xDomain={traceX}
        yDomain={[0, 18000]}
        series={[{ values: blueTrace, scale: 1000, color: "#0000ff" }]}
        yTicks={[0, 5000, 10000, 15000]}
        yMajor={[0, 10000]}
        yFmt={plain}
        xLabels={false}
      />
      <TracePanel
        box={{ x: 85, y: 179.3, w: 418, h: 55.7 }}
        xDomain={[-1.01, 46.05]}
        yDomain={[0, 0.9]}
        series={[{ values: fretC, scale: 0.01, color: "#000000" }]}
        yTicks={fretTicks}
        yMajor={fretMajor}
        yFmt={fixed1}
        xLabels
      />
      <MarkerLines box={{ x: 85, y: 42, w: 418, h: 193 }} xDomain={[-1.01, 46.05]} marks={[20, 29.1]} />

      <TracePanel
        box={{ x: 86.7, y: 301, w: 417.3, h: 55.3 }}
        xDomain={[-1.05, 45.97]}
        yDomain={[0, 0.9]}
        series={[{ values: fretD, scale: 0.01, color: "#000000" }]}
        yTicks={fretTicks}
        yMajor={fretMajor}
        yFmt={fixed1}
        xLabels
        marks={[29.4]}
      />
      <TracePanel
        box={{ x: 88.3, y: 374.3, w: 417.4, h: 55.7 }}
        xDomain={[-0.94, 45.95]}
        yDomain={[0, 1]}
        series={[{ values: fretE, scale: 0.01, color: "#000000" }]}
        yTicks={fretTicks}
        yMajor={fretMajor}
        yFmt={fixed1}
        xLabels
        gap={12}
        marks={[25.4]}
      />
      <TracePanel
        box={{ x: 86.7, y: 446.7, w: 418.3, h: 55.6 }}
        xDomain={[-1.05, 46.07]}
        yDomain={[0, 0.9]}
        series={[{ values: fretF, scale: 0.01, color: "#000000" }]}
        yTicks={fretTicks}
        yMajor={fretMajor}
        yFmt={fixed1}
        xLabels
        marks={[26.2]}
      />
      <MarkerLines box={{ x: 86.7, y: 302, w: 417.3, h: 198 }} xDomain={[-1.05, 45.97]} marks={[19.6]} />

      <ContourPanel
        box={{ x: 675, y: 32.7, w: 285, h: 189.6 }}
        xDomain={[-9.4, 29.4]}
        yDomain={[-0.178, 1.176]}
        regions={contourG}
        xTicks={[-5, 0, 5, 10, 15, 20, 25]}
        xMajor={[0, 10, 20]}
        size={14}
        gap={14.5}
      />
      <ColorKey x={1030} y={42.7} w={13.3} h={100} />

      <ContourPanel
        box={{ x: 673.3, y: 276, w: 283.4, h: 188 }}
        xDomain={[-9.57, 29.5]}
        yDomain={[-0.183, 1.173]}
        regions={contourH}
        xTicks={[-5, 0, 5, 10, 15, 20, 25]}
        xMajor={[0, 10, 20]}
        size={14}
        gap={13.5}
      />
      <ColorKey x={1026} y={283.3} w={18.3} h={95.7} />

      <PanelI />
      <PanelJ />

      <ContourPanel
        box={{ x: 771, y: 529, w: 244.7, h: 173.7 }}
        xDomain={[-150, 350]}
        yDomain={[-0.175, 1.168]}
        regions={contourK}
        xTicks={[-150, -100, -50, 0, 50, 100, 150, 200, 250, 300, 350]}
        xMajor={[-100, 0, 100, 200, 300]}
        size={13.5}
        gap={12.5}
      />
      <ColorKey x={1024.3} y={530.7} w={18} h={82} />

      <Annotations />
    </div>
  );
}
